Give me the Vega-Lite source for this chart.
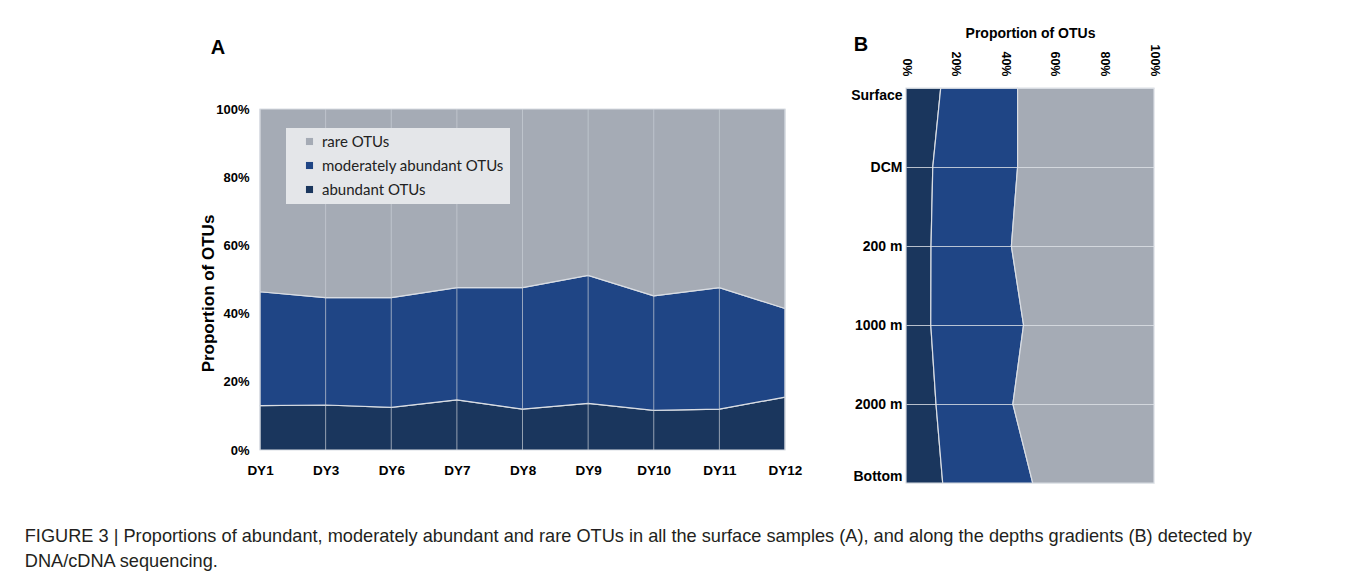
{
  "$schema": "https://vega.github.io/schema/vega-lite/v6.json",
  "background": "white",
  "padding": {"left": 24, "top": 26, "right": 10, "bottom": 5},
  "datasets": {
    "surface": [
      {"sample": "DY1", "category": "abundant OTUs", "percent": 13.0},
      {"sample": "DY1", "category": "moderately abundant OTUs", "percent": 33.4},
      {"sample": "DY1", "category": "rare OTUs", "percent": 53.6},
      {"sample": "DY3", "category": "abundant OTUs", "percent": 13.2},
      {"sample": "DY3", "category": "moderately abundant OTUs", "percent": 31.5},
      {"sample": "DY3", "category": "rare OTUs", "percent": 55.3},
      {"sample": "DY6", "category": "abundant OTUs", "percent": 12.5},
      {"sample": "DY6", "category": "moderately abundant OTUs", "percent": 32.2},
      {"sample": "DY6", "category": "rare OTUs", "percent": 55.3},
      {"sample": "DY7", "category": "abundant OTUs", "percent": 14.7},
      {"sample": "DY7", "category": "moderately abundant OTUs", "percent": 32.9},
      {"sample": "DY7", "category": "rare OTUs", "percent": 52.4},
      {"sample": "DY8", "category": "abundant OTUs", "percent": 12.0},
      {"sample": "DY8", "category": "moderately abundant OTUs", "percent": 35.6},
      {"sample": "DY8", "category": "rare OTUs", "percent": 52.4},
      {"sample": "DY9", "category": "abundant OTUs", "percent": 13.7},
      {"sample": "DY9", "category": "moderately abundant OTUs", "percent": 37.5},
      {"sample": "DY9", "category": "rare OTUs", "percent": 48.8},
      {"sample": "DY10", "category": "abundant OTUs", "percent": 11.6},
      {"sample": "DY10", "category": "moderately abundant OTUs", "percent": 33.6},
      {"sample": "DY10", "category": "rare OTUs", "percent": 54.8},
      {"sample": "DY11", "category": "abundant OTUs", "percent": 12.0},
      {"sample": "DY11", "category": "moderately abundant OTUs", "percent": 35.6},
      {"sample": "DY11", "category": "rare OTUs", "percent": 52.4},
      {"sample": "DY12", "category": "abundant OTUs", "percent": 15.5},
      {"sample": "DY12", "category": "moderately abundant OTUs", "percent": 26.0},
      {"sample": "DY12", "category": "rare OTUs", "percent": 58.5}
    ],
    "depths": [
      {"depth": "Surface", "category": "abundant OTUs", "percent": 14.0},
      {"depth": "Surface", "category": "moderately abundant OTUs", "percent": 31.0},
      {"depth": "Surface", "category": "rare OTUs", "percent": 55.0},
      {"depth": "DCM", "category": "abundant OTUs", "percent": 10.8},
      {"depth": "DCM", "category": "moderately abundant OTUs", "percent": 34.2},
      {"depth": "DCM", "category": "rare OTUs", "percent": 55.0},
      {"depth": "200 m", "category": "abundant OTUs", "percent": 10.1},
      {"depth": "200 m", "category": "moderately abundant OTUs", "percent": 32.4},
      {"depth": "200 m", "category": "rare OTUs", "percent": 57.5},
      {"depth": "1000 m", "category": "abundant OTUs", "percent": 10.0},
      {"depth": "1000 m", "category": "moderately abundant OTUs", "percent": 37.4},
      {"depth": "1000 m", "category": "rare OTUs", "percent": 52.6},
      {"depth": "2000 m", "category": "abundant OTUs", "percent": 12.1},
      {"depth": "2000 m", "category": "moderately abundant OTUs", "percent": 31.0},
      {"depth": "2000 m", "category": "rare OTUs", "percent": 56.9},
      {"depth": "Bottom", "category": "abundant OTUs", "percent": 14.8},
      {"depth": "Bottom", "category": "moderately abundant OTUs", "percent": 36.3},
      {"depth": "Bottom", "category": "rare OTUs", "percent": 48.9}
    ]
  },
  "title": {
    "text": [
      "FIGURE 3 | Proportions of abundant, moderately abundant and rare OTUs in all the surface samples (A), and along the depths gradients (B) detected by",
      "DNA/cDNA sequencing."
    ],
    "orient": "bottom",
    "anchor": "start",
    "dx": -175,
    "offset": 43,
    "font": "Liberation Sans",
    "fontSize": 18.2,
    "fontWeight": "normal",
    "color": "#231f20",
    "lineHeight": 25
  },
  "hconcat": [
    {
      "title": {
        "text": "A",
        "anchor": "start",
        "frame": "bounds",
        "dx": 11,
        "font": "Liberation Sans",
        "fontSize": 20,
        "fontWeight": "bold",
        "color": "#000000",
        "offset": 30
      },
      "data": {"name": "surface"},
      "width": 525,
      "height": 362,
      "layer": [
        {
          "mark": {"type": "area", "stroke": "#d9dde3", "strokeWidth": 1.2},
          "encoding": {
            "x": {
              "field": "sample",
              "type": "ordinal",
              "sort": ["DY1", "DY3", "DY6", "DY7", "DY8", "DY9", "DY10", "DY11", "DY12"],
              "scale": {"type": "point", "padding": 0},
              "axis": {
                "title": null,
                "labelAngle": 0,
                "labelFont": "Liberation Sans",
                "labelFontSize": 13.5,
                "labelFontWeight": "bold",
                "labelColor": "#000000",
                "labelPadding": 13,
                "domain": false,
                "ticks": false,
                "grid": false
              }
            },
            "y": {
              "field": "percent",
              "type": "quantitative",
              "stack": "zero",
              "scale": {"domain": [0, 100], "nice": false, "range": [362, 21]},
              "axis": {
                "title": "Proportion of OTUs",
                "titleFont": "Liberation Sans",
                "titleFontSize": 17,
                "titleFontWeight": "bold",
                "titleColor": "#000000",
                "titlePadding": -2,
                "titleY": 205,
                "values": [0, 20, 40, 60, 80, 100],
                "labelExpr": "datum.value + '%'",
                "labelFont": "Liberation Sans",
                "labelFontSize": 13,
                "labelFontWeight": "bold",
                "labelColor": "#000000",
                "labelPadding": 11,
                "domain": false,
                "ticks": false,
                "grid": false
              }
            },
            "color": {
              "field": "category",
              "type": "nominal",
              "scale": {
                "domain": ["abundant OTUs", "moderately abundant OTUs", "rare OTUs"],
                "range": ["#1a365d", "#1f4585", "#a5abb5"]
              },
              "legend": {
                "title": null,
                "orient": "none",
                "legendX": 26,
                "legendY": 40,
                "values": ["rare OTUs", "moderately abundant OTUs", "abundant OTUs"],
                "symbolType": "square",
                "symbolSize": 50,
                "symbolStrokeWidth": 0,
                "symbolOffset": 10,
                "labelFont": "Lato",
                "labelFontSize": 15,
                "labelColor": "#222222",
                "labelOffset": 5,
                "labelLimit": 400,
                "rowPadding": 8,
                "padding": 6,
                "fillColor": "#e4e6e9"
              }
            },
            "order": {"field": "category", "sort": "ascending"}
          }
        },
        {
          "transform": [{"filter": "datum.category === 'rare OTUs'"}],
          "mark": {"type": "rule", "color": "#c9ced6", "opacity": 0.7, "strokeWidth": 1},
          "encoding": {
            "x": {
              "field": "sample",
              "type": "ordinal",
              "sort": ["DY1", "DY3", "DY6", "DY7", "DY8", "DY9", "DY10", "DY11", "DY12"]
            },
            "y": {"datum": 0},
            "y2": {"datum": 100}
          }
        }
      ]
    },
    {
      "title": {
        "text": "B",
        "anchor": "start",
        "frame": "bounds",
        "dx": 3,
        "font": "Liberation Sans",
        "fontSize": 20,
        "fontWeight": "bold",
        "color": "#000000",
        "offset": -29
      },
      "data": {"name": "depths"},
      "width": 248,
      "height": 395,
      "mark": {"type": "area", "orient": "horizontal", "stroke": "#d9dde3", "strokeWidth": 1.2},
      "encoding": {
        "y": {
          "field": "depth",
          "type": "ordinal",
          "sort": ["Surface", "DCM", "200 m", "1000 m", "2000 m", "Bottom"],
          "scale": {"type": "point", "padding": 0},
          "axis": {
            "title": null,
            "labelFont": "Liberation Sans",
            "labelFontSize": 14,
            "labelFontWeight": "bold",
            "labelColor": "#000000",
            "labelPadding": 4,
            "labelFlush": true,
            "domain": false,
            "ticks": false,
            "grid": true,
            "gridColor": "#dfe2e7",
            "gridOpacity": 0.8,
            "gridWidth": 1,
            "zindex": 1
          }
        },
        "x": {
          "field": "percent",
          "type": "quantitative",
          "stack": "zero",
          "scale": {"domain": [0, 100], "nice": false},
          "axis": {
            "orient": "top",
            "title": "Proportion of OTUs",
            "titleFont": "Liberation Sans",
            "titleFontSize": 14,
            "titleFontWeight": "bold",
            "titleColor": "#000000",
            "titlePadding": 4,
            "values": [0, 20, 40, 60, 80, 100],
            "labelExpr": "datum.value + '%'",
            "labelAngle": 90,
            "labelAlign": "right",
            "labelBaseline": "middle",
            "labelFont": "Liberation Sans",
            "labelFontSize": 12.5,
            "labelFontWeight": "bold",
            "labelColor": "#000000",
            "labelPadding": 12,
            "domain": false,
            "ticks": false,
            "grid": false
          }
        },
        "color": {
          "field": "category",
          "type": "nominal",
          "scale": {
            "domain": ["abundant OTUs", "moderately abundant OTUs", "rare OTUs"],
            "range": ["#1a365d", "#1f4585", "#a5abb5"]
          },
          "legend": null
        },
        "order": {"field": "category", "sort": "ascending"}
      }
    }
  ],
  "spacing": 48,
  "resolve": {"scale": {"color": "shared"}},
  "config": {
    "view": {"stroke": null}
  }
}
